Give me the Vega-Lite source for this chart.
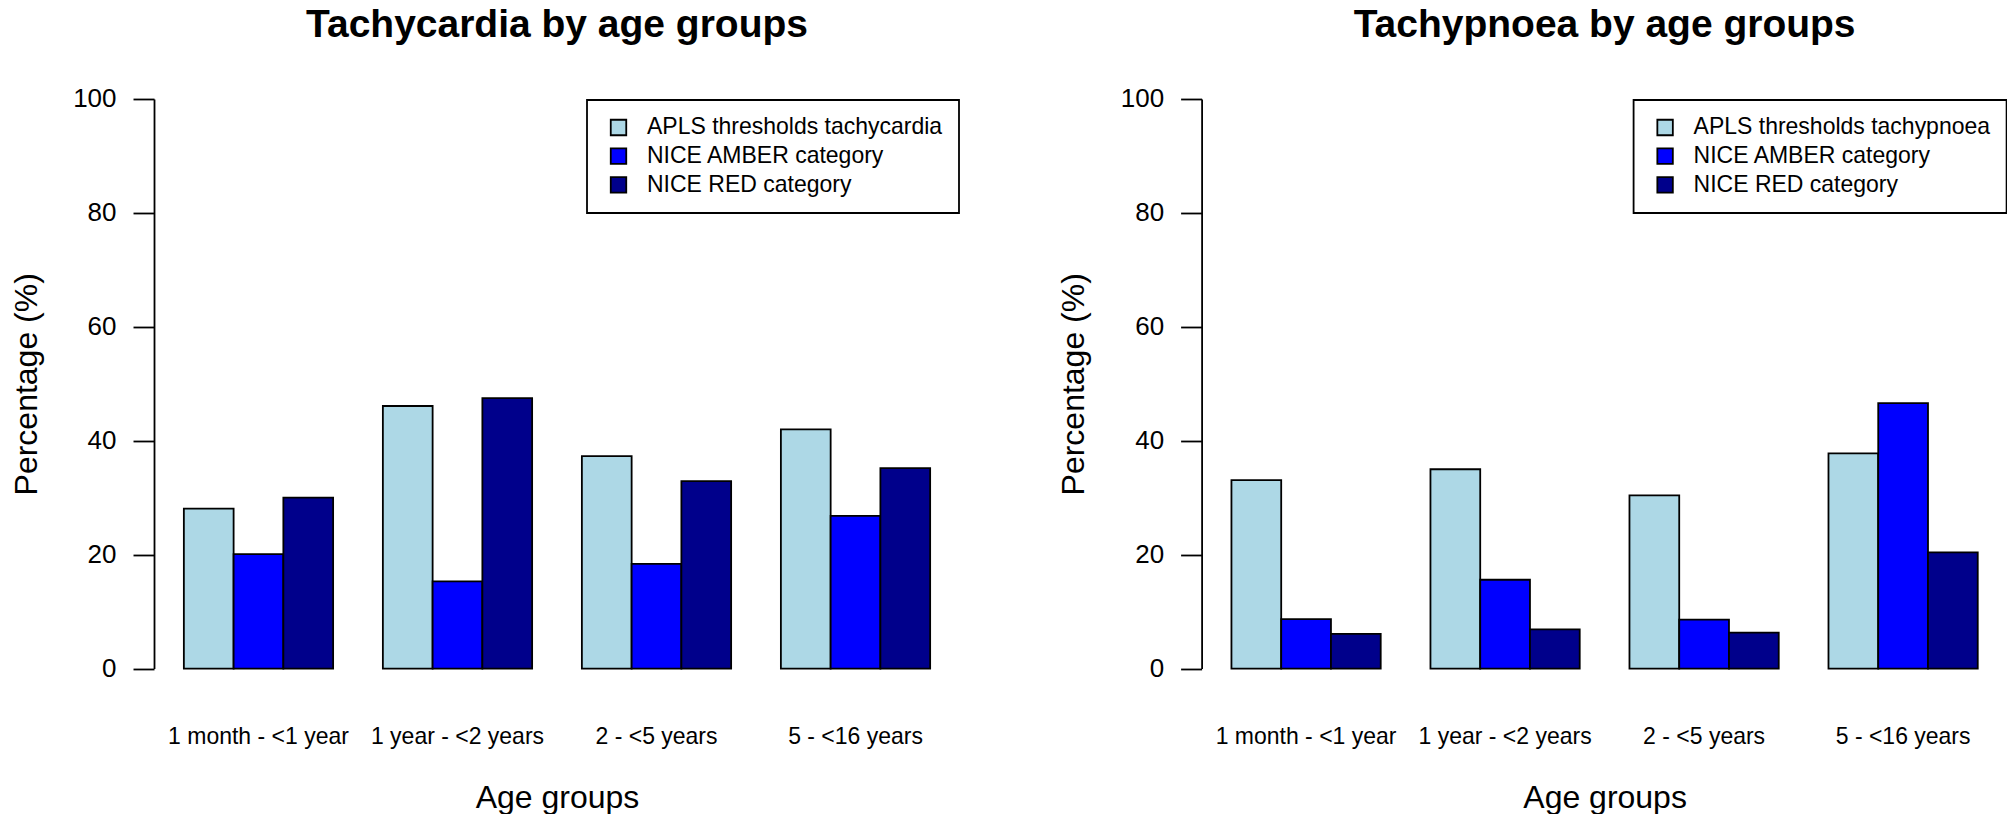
{
  "$schema": "https://vega.github.io/schema/vega-lite/v6.json",
  "background": "white",
  "padding": {"left": 9, "top": 6, "right": 0, "bottom": 0},
  "bounds": "flush",
  "spacing": 241.6,
  "config": {
    "font": "Liberation Sans",
    "view": {"stroke": null},
    "axis": {"grid": false, "labelColor": "black", "titleColor": "black", "labelFont": "Liberation Sans", "titleFont": "Liberation Sans", "titleFontWeight": "normal"},
    "title": {"font": "Liberation Sans", "fontSize": 39, "fontWeight": "bold", "color": "black", "anchor": "middle", "baseline": "alphabetic", "offset": 40.5},
    "legend": {"strokeWidth": 1.8}
  },
  "datasets": {
    "tachycardia": [
      {"age": "1 month - <1 year", "series": "APLS thresholds tachycardia", "value": 28.1},
      {"age": "1 month - <1 year", "series": "NICE AMBER category", "value": 20.1},
      {"age": "1 month - <1 year", "series": "NICE RED category", "value": 30.0},
      {"age": "1 year - <2 years", "series": "APLS thresholds tachycardia", "value": 46.1},
      {"age": "1 year - <2 years", "series": "NICE AMBER category", "value": 15.3},
      {"age": "1 year - <2 years", "series": "NICE RED category", "value": 47.5},
      {"age": "2 - <5 years", "series": "APLS thresholds tachycardia", "value": 37.3},
      {"age": "2 - <5 years", "series": "NICE AMBER category", "value": 18.4},
      {"age": "2 - <5 years", "series": "NICE RED category", "value": 32.9},
      {"age": "5 - <16 years", "series": "APLS thresholds tachycardia", "value": 42.0},
      {"age": "5 - <16 years", "series": "NICE AMBER category", "value": 26.8},
      {"age": "5 - <16 years", "series": "NICE RED category", "value": 35.2}
    ],
    "tachypnoea": [
      {"age": "1 month - <1 year", "series": "APLS thresholds tachypnoea", "value": 33.1},
      {"age": "1 month - <1 year", "series": "NICE AMBER category", "value": 8.7},
      {"age": "1 month - <1 year", "series": "NICE RED category", "value": 6.1},
      {"age": "1 year - <2 years", "series": "APLS thresholds tachypnoea", "value": 35.0},
      {"age": "1 year - <2 years", "series": "NICE AMBER category", "value": 15.6},
      {"age": "1 year - <2 years", "series": "NICE RED category", "value": 6.9},
      {"age": "2 - <5 years", "series": "APLS thresholds tachypnoea", "value": 30.4},
      {"age": "2 - <5 years", "series": "NICE AMBER category", "value": 8.6},
      {"age": "2 - <5 years", "series": "NICE RED category", "value": 6.3},
      {"age": "5 - <16 years", "series": "APLS thresholds tachypnoea", "value": 37.8},
      {"age": "5 - <16 years", "series": "NICE AMBER category", "value": 46.6},
      {"age": "5 - <16 years", "series": "NICE RED category", "value": 20.4}
    ]
  },
  "hconcat": [
    {
      "title": "Tachycardia by age groups",
      "width": 806,
      "height": 569.6,
      "data": {"name": "tachycardia"},
      "mark": {"type": "bar", "stroke": "black", "strokeWidth": 1.8},
      "encoding": {
        "x": {
          "field": "age", "type": "nominal",
          "sort": ["1 month - <1 year", "1 year - <2 years", "2 - <5 years", "5 - <16 years"],
          "scale": {"paddingInner": 0.25, "paddingOuter": 0.15},
          "axis": {"title": "Age groups", "labelAngle": 0, "domain": false, "ticks": false, "tickSize": 0, "labelPadding": 75, "labelBaseline": "alphabetic", "labelFontSize": 23, "labelLimit": 0, "titleFontSize": 32, "titleY": 139, "titleBaseline": "alphabetic"}
        },
        "xOffset": {
          "field": "series", "type": "nominal",
          "sort": ["APLS thresholds tachycardia", "NICE AMBER category", "NICE RED category"],
          "scale": {"paddingInner": 0, "paddingOuter": 0}
        },
        "y": {
          "field": "value", "type": "quantitative",
          "scale": {"domain": [0, 100], "nice": false},
          "axis": {"title": "Percentage (%)", "values": [0, 20, 40, 60, 80, 100], "tickSize": 21, "tickWidth": 1.8, "tickColor": "black", "domainColor": "black", "domainWidth": 1.8, "labelFontSize": 26, "labelPadding": 17, "titleFontSize": 32, "titleX": -118, "titleY": 284.8, "titleAngle": 270, "titleBaseline": "alphabetic", "titleAlign": "center"}
        },
        "color": {
          "field": "series", "type": "nominal",
          "sort": ["APLS thresholds tachycardia", "NICE AMBER category", "NICE RED category"],
          "scale": {"domain": ["APLS thresholds tachycardia", "NICE AMBER category", "NICE RED category"], "range": ["#ADD8E6", "#0000FF", "#00008B"]},
          "legend": {"orient": "top-right", "offset": 1, "title": null, "fillColor": "white", "strokeColor": "black", "padding": 16, "symbolType": "square", "symbolSize": 240, "symbolStrokeColor": "black", "symbolStrokeWidth": 1.8, "symbolOffset": 4, "labelOffset": 17, "labelFontSize": 23, "labelColor": "black", "labelFont": "Liberation Sans", "rowPadding": 4.7, "labelLimit": 500}
        }
      }
    },
    {
      "title": "Tachypnoea by age groups",
      "width": 806,
      "height": 569.6,
      "data": {"name": "tachypnoea"},
      "mark": {"type": "bar", "stroke": "black", "strokeWidth": 1.8},
      "encoding": {
        "x": {
          "field": "age", "type": "nominal",
          "sort": ["1 month - <1 year", "1 year - <2 years", "2 - <5 years", "5 - <16 years"],
          "scale": {"paddingInner": 0.25, "paddingOuter": 0.15},
          "axis": {"title": "Age groups", "labelAngle": 0, "domain": false, "ticks": false, "tickSize": 0, "labelPadding": 75, "labelBaseline": "alphabetic", "labelFontSize": 23, "labelLimit": 0, "titleFontSize": 32, "titleY": 139, "titleBaseline": "alphabetic"}
        },
        "xOffset": {
          "field": "series", "type": "nominal",
          "sort": ["APLS thresholds tachypnoea", "NICE AMBER category", "NICE RED category"],
          "scale": {"paddingInner": 0, "paddingOuter": 0}
        },
        "y": {
          "field": "value", "type": "quantitative",
          "scale": {"domain": [0, 100], "nice": false},
          "axis": {"title": "Percentage (%)", "values": [0, 20, 40, 60, 80, 100], "tickSize": 21, "tickWidth": 1.8, "tickColor": "black", "domainColor": "black", "domainWidth": 1.8, "labelFontSize": 26, "labelPadding": 17, "titleFontSize": 32, "titleX": -118, "titleY": 284.8, "titleAngle": 270, "titleBaseline": "alphabetic", "titleAlign": "center"}
        },
        "color": {
          "field": "series", "type": "nominal",
          "sort": ["APLS thresholds tachypnoea", "NICE AMBER category", "NICE RED category"],
          "scale": {"domain": ["APLS thresholds tachypnoea", "NICE AMBER category", "NICE RED category"], "range": ["#ADD8E6", "#0000FF", "#00008B"]},
          "legend": {"orient": "top-right", "offset": 1, "title": null, "fillColor": "white", "strokeColor": "black", "padding": 16, "symbolType": "square", "symbolSize": 240, "symbolStrokeColor": "black", "symbolStrokeWidth": 1.8, "symbolOffset": 4, "labelOffset": 17, "labelFontSize": 23, "labelColor": "black", "labelFont": "Liberation Sans", "rowPadding": 4.7, "labelLimit": 500}
        }
      }
    }
  ],
  "resolve": {"scale": {"color": "independent", "x": "independent", "xOffset": "independent"}}
}
